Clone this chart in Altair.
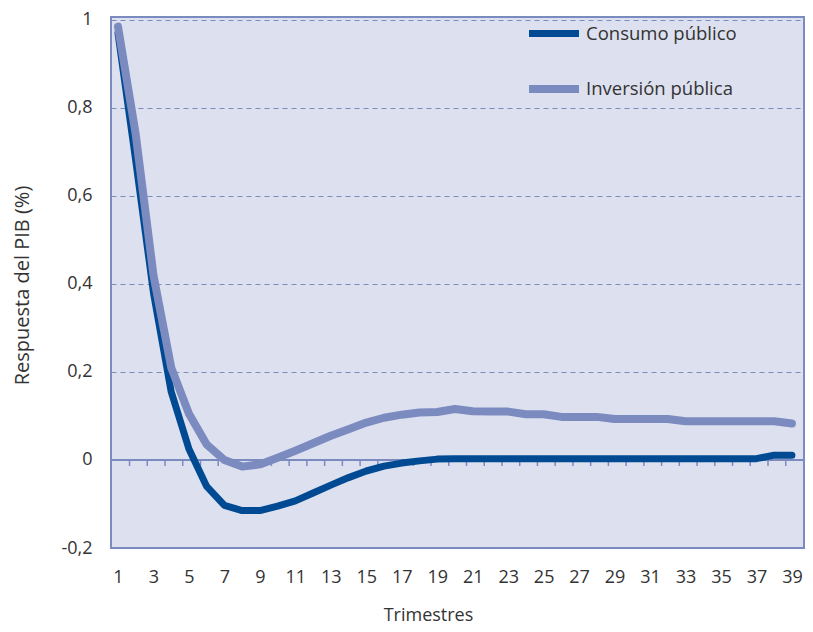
import altair as alt
import pandas as pd

trimestres = list(range(1, 40))
consumo = [0.97, 0.68, 0.38, 0.155, 0.025, -0.06, -0.103, -0.115, -0.115, -0.105,
           -0.093, -0.075, -0.057, -0.04, -0.025, -0.014, -0.007, -0.002, 0.002, 0.003,
           0.003, 0.003, 0.003, 0.003, 0.003, 0.003, 0.003, 0.003, 0.003, 0.003,
           0.003, 0.003, 0.003, 0.003, 0.003, 0.003, 0.003, 0.011, 0.011]
inversion = [0.985, 0.74, 0.42, 0.21, 0.105, 0.035, 0.0, -0.015, -0.01, 0.005,
             0.021, 0.038, 0.055, 0.07, 0.085, 0.096, 0.103, 0.108, 0.109, 0.116,
             0.111, 0.11, 0.11, 0.104, 0.104, 0.098, 0.098, 0.098, 0.093, 0.093,
             0.093, 0.093, 0.088, 0.088, 0.088, 0.088, 0.088, 0.088, 0.083]
series_names = ["Consumo público", "Inversión pública"]
series_colors = ["#004a93", "#7b8bc0"]
series_widths = [7, 8]
x_labels = list(range(1, 40, 2))
y_ticks = [-0.2, 0, 0.2, 0.4, 0.6, 0.8, 1.0]
zero_ticks = [k + 0.65 for k in range(1, 39)]

df = pd.DataFrame({
    "trimestre": trimestres * 2,
    "serie": [series_names[0]] * len(trimestres) + [series_names[1]] * len(trimestres),
    "valor": consumo + inversion,
})
ticks_df = pd.DataFrame({"trimestre": zero_ticks, "valor": [0] * len(zero_ticks)})
zero_df = pd.DataFrame({"valor": [0]})

FONT = "Open Sans"
TXT = "#333333"
GRID = "#7b8bc0"

x_scale = alt.Scale(domain=[0.605, 39.68], nice=False, zero=False)
y_scale = alt.Scale(domain=[-0.2, 1.0068], nice=False, zero=False)

x_axis = alt.Axis(values=x_labels, title="Trimestres", grid=False, ticks=False,
                  domain=False, labelFontSize=18, labelFont=FONT, labelColor=TXT,
                  labelPadding=20, labelOverlap=False, labelBound=False,
                  labelFlush=False, format="d",
                  titleFont=FONT, titleFontSize=18,
                  titleFontWeight="normal", titleColor=TXT,
                  titleX=317, titleY=67, titleBaseline="middle")
y_axis = alt.Axis(values=y_ticks, title="Respuesta del PIB (%)", grid=True,
                  gridDash=[5, 4], gridColor=GRID, gridWidth=1, gridOpacity=1,
                  ticks=False, domain=False, labelFontSize=18, labelFont=FONT,
                  labelColor=TXT, labelPadding=19, labelOverlap=False,
                  labelBound=False, labelFlush=False,
                  labelExpr="replace(replace(format(datum.value, '~g'), '.', ','), '\u2212', '-')",
                  titleFont=FONT, titleFontSize=20, titleFontWeight="normal",
                  titleColor=TXT, titleX=-89, titleY=268, titleBaseline="middle",
                  titleAngle=270)

lines = alt.Chart(df).mark_line(strokeCap="round", strokeJoin="round").encode(
    x=alt.X("trimestre:Q", scale=x_scale, axis=x_axis),
    y=alt.Y("valor:Q", scale=y_scale, axis=y_axis),
    color=alt.Color("serie:N", scale=alt.Scale(domain=series_names, range=series_colors),
                    legend=alt.Legend(title=None, orient="none", legendX=414, legendY=-12,
                                      symbolType="stroke", symbolSize=2500,
                                      symbolStrokeWidth=8, labelFont=FONT,
                                      labelFontSize=18.5, labelColor=TXT, labelOffset=3,
                                      rowPadding=12)),
    strokeWidth=alt.StrokeWidth("serie:N", scale=alt.Scale(domain=series_names, range=series_widths),
                                legend=None),
    order=alt.Order("trimestre:Q"),
)

zero_line = alt.Chart(zero_df).mark_rule(color=GRID, strokeWidth=2).encode(
    y=alt.Y("valor:Q", scale=y_scale, axis=y_axis)
)

zero_tick_marks = alt.Chart(ticks_df).mark_tick(
    orient="vertical", size=6, thickness=1.5, yOffset=3, color=GRID, opacity=1
).encode(
    x=alt.X("trimestre:Q", scale=x_scale, axis=x_axis),
    y=alt.Y("valor:Q", scale=y_scale, axis=y_axis),
)

chart = alt.layer(zero_line, zero_tick_marks, lines).properties(
    width=693, height=531,
    autosize=alt.AutoSizeParams(type="none"),
    padding={"left": 103, "top": 9, "right": 1, "bottom": 76},
    background="white",
).configure_view(
    fill="#dde0ef", stroke=GRID, strokeWidth=2
)

chart.save("out.html", embed_options={"renderer": "svg", "actions": False})
